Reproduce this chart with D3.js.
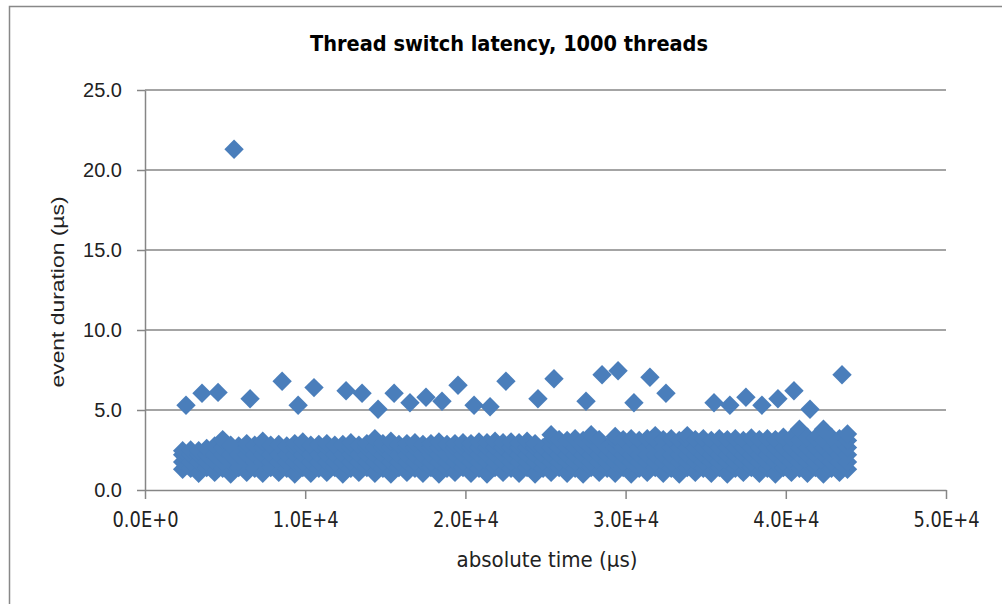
<!DOCTYPE html>
<html>
<head>
<meta charset="utf-8">
<script src="https://cdn.jsdelivr.net/npm/d3@7"></script>
<style>
  html, body { margin: 0; padding: 0; background: #fff; }
  svg { display: block; }
</style>
</head>
<body>
<svg id="chart" width="1002" height="604"></svg>
<script>
// ---- data ----
const titleText = "Thread switch latency, 1000 threads";
const xTitle = "absolute time (µs)";
const yTitle = "event duration (µs)";
const xTicks = [0, 10000, 20000, 30000, 40000, 50000];
const yTicks = [0, 5, 10, 15, 20, 25];

// isolated high-latency events
const outX = [2560, 3560, 4560, 5560, 6560, 8560, 9560, 10550, 12550, 13550, 14550, 15550, 16540, 17540, 18540, 19540, 20540, 21540, 22530, 24530, 25530, 27530, 28530, 29530, 30520, 31520, 32520, 35520, 36510, 37510, 38510, 39510, 40510, 41510, 43510];
const outY = [5.3, 6.05, 6.1, 21.3, 5.7, 6.8, 5.3, 6.4, 6.2, 6.05, 5.05, 6.05, 5.45, 5.8, 5.55, 6.55, 5.3, 5.2, 6.8, 5.7, 6.95, 5.55, 7.2, 7.45, 5.45, 7.05, 6.05, 5.45, 5.3, 5.8, 5.3, 5.7, 6.2, 5.05, 7.2];

// dense band of regular events: column times, lowest and highest value per column
const bandX = [2350, 2850, 3350, 3850, 4350, 4850, 5350, 5850, 6350, 6850, 7350, 7850, 8350, 8850, 9350, 9850, 10350, 10850, 11350, 11850, 12350, 12850, 13350, 13850, 14350, 14850, 15350, 15850, 16350, 16850, 17350, 17850, 18350, 18850, 19350, 19850, 20350, 20850, 21350, 21850, 22350, 22850, 23350, 23850, 24350, 24850, 25350, 25850, 26350, 26850, 27350, 27850, 28350, 28850, 29350, 29850, 30350, 30850, 31350, 31850, 32350, 32850, 33350, 33850, 34350, 34850, 35350, 35850, 36350, 36850, 37350, 37850, 38350, 38850, 39350, 39850, 40350, 40850, 41350, 41850, 42350, 42850, 43350, 43850];
const bandHigh = [2.45, 2.5, 2.45, 2.6, 2.75, 3.15, 2.8, 2.75, 2.9, 2.8, 3.05, 2.8, 2.85, 2.75, 2.9, 3.0, 2.8, 2.85, 2.9, 2.8, 2.85, 2.95, 2.8, 2.9, 3.2, 2.9, 3.05, 2.85, 2.9, 2.95, 2.85, 2.9, 3.0, 2.85, 2.9, 2.95, 2.9, 3.0, 2.95, 3.05, 2.95, 3.0, 2.95, 3.05, 2.9, 2.65, 3.45, 3.15, 3.1, 3.2, 3.1, 3.45, 3.15, 2.65, 3.35, 3.15, 3.2, 3.1, 3.2, 3.4, 3.15, 3.2, 3.1, 3.4, 3.15, 3.2, 3.1, 3.2, 3.15, 3.2, 3.1, 3.25, 3.15, 3.2, 3.15, 3.3, 3.25, 3.8, 3.3, 3.25, 3.8, 3.3, 3.2, 3.5];
const bandLow = [1.3, 1.35, 1.05, 1.4, 1.1, 1.35, 1.0, 1.4, 1.1, 1.35, 1.05, 1.4, 1.1, 1.35, 1.0, 1.4, 1.05, 1.35, 1.1, 1.4, 1.0, 1.35, 1.1, 1.4, 1.05, 1.35, 1.0, 1.4, 1.1, 1.35, 1.05, 1.4, 1.0, 1.35, 1.1, 1.4, 1.05, 1.35, 1.0, 1.4, 1.1, 1.35, 1.05, 1.4, 1.0, 1.35, 1.1, 1.4, 1.05, 1.35, 1.0, 1.4, 1.1, 1.35, 1.05, 1.4, 1.0, 1.35, 1.1, 1.4, 1.05, 1.35, 1.0, 1.4, 1.1, 1.35, 1.05, 1.4, 1.0, 1.35, 1.1, 1.4, 1.05, 1.35, 1.0, 1.4, 1.1, 1.35, 1.05, 1.4, 1.0, 1.35, 1.1, 1.3];
// interior levels of the band (solidly filled between low and high)
const bandCore = [1.75, 2.2, 2.65, 3.1];

// ---- layout ----
const svg = d3.select("#chart");
const plot = { left: 145, right: 946, top: 90, bottom: 490 };
const gridColor = "#868686";
const markColor = "#4a7ebb";
const r = 9.7;

svg.append("rect")
  .attr("x", 9.5).attr("y", 6.5).attr("width", 1100).attr("height", 800)
  .attr("fill", "none").attr("stroke", "#888").attr("stroke-width", 1.5);

const x = d3.scaleLinear().domain([0, 50000]).range([plot.left, plot.right]);
const y = d3.scaleLinear().domain([0, 25]).range([plot.bottom, plot.top]);

// gridlines
svg.append("g").selectAll("line")
  .data(yTicks.filter(d => d > 0))
  .join("line")
  .attr("x1", plot.left).attr("x2", plot.right)
  .attr("y1", d => y(d)).attr("y2", d => y(d))
  .attr("stroke", gridColor).attr("stroke-width", 1.5);

// marks
const diamond = `M0,${-r}L${r},0L0,${r}L${-r},0Z`;
const bandPts = [];
bandX.forEach((bx, i) => {
  bandPts.push([bx, bandLow[i]]);
  bandCore.forEach(v => { if (v > bandLow[i] && v < bandHigh[i] - 0.2) bandPts.push([bx, v]); });
  bandPts.push([bx, bandHigh[i]]);
});
const outPts = outX.map((d, i) => [d, outY[i]]);

const marks = svg.append("g");
marks.selectAll("path.band").data(bandPts).join("path")
  .attr("class", "band")
  .attr("d", diamond)
  .attr("transform", d => `translate(${x(d[0])},${y(d[1])})`)
  .attr("fill", markColor);
marks.selectAll("path.out").data(outPts).join("path")
  .attr("class", "out")
  .attr("d", diamond)
  .attr("transform", d => `translate(${x(d[0])},${y(d[1])})`)
  .attr("fill", markColor);

// axes
const yAxis = d3.axisLeft(y).tickValues(yTicks).tickFormat(d3.format(".1f"))
  .tickSizeInner(8).tickSizeOuter(0).tickPadding(15);
const gy = svg.append("g").attr("transform", `translate(${plot.left},0)`).call(yAxis);
gy.selectAll("path,line").attr("stroke", gridColor).attr("stroke-width", 1.5);
gy.selectAll("text").attr("font-family", "'Liberation Sans', Arial, sans-serif")
  .attr("font-size", 20).attr("fill", "#222");

const fmtE = d => d3.format(".1e")(d).toUpperCase();
const xAxis = d3.axisBottom(x).tickValues(xTicks).tickFormat(fmtE)
  .tickSizeInner(9).tickSizeOuter(0).tickPadding(13);
const gx = svg.append("g").attr("transform", `translate(0,${plot.bottom})`).call(xAxis);
gx.selectAll("path,line").attr("stroke", gridColor).attr("stroke-width", 1.5);
gx.selectAll("text").attr("font-family", "'Liberation Sans Narrow', 'Arial Narrow', 'DejaVu Sans Condensed', sans-serif")
  .attr("font-size", 21).attr("fill", "#222")
  .attr("textLength", 66).attr("lengthAdjust", "spacingAndGlyphs");

// titles
svg.append("text")
  .attr("x", 509).attr("y", 51)
  .attr("text-anchor", "middle")
  .attr("font-family", "'Liberation Sans Narrow', 'Arial Narrow', 'DejaVu Sans Condensed', sans-serif")
  .attr("font-weight", "bold").attr("font-size", 21)
  .attr("textLength", 398).attr("lengthAdjust", "spacingAndGlyphs")
  .attr("fill", "#000")
  .text(titleText);

svg.append("text")
  .attr("x", 547).attr("y", 567)
  .attr("text-anchor", "middle")
  .attr("font-family", "'Liberation Sans Narrow', 'Arial Narrow', 'DejaVu Sans Condensed', sans-serif")
  .attr("font-size", 21)
  .attr("textLength", 181).attr("lengthAdjust", "spacingAndGlyphs")
  .attr("fill", "#222")
  .text(xTitle);

svg.append("text")
  .attr("transform", "translate(64,292) rotate(-90)")
  .attr("text-anchor", "middle")
  .attr("font-family", "'Liberation Sans', Arial, sans-serif")
  .attr("font-size", 19)
  .attr("textLength", 191).attr("lengthAdjust", "spacingAndGlyphs")
  .attr("fill", "#222")
  .text(yTitle);
</script>
</body>
</html>
